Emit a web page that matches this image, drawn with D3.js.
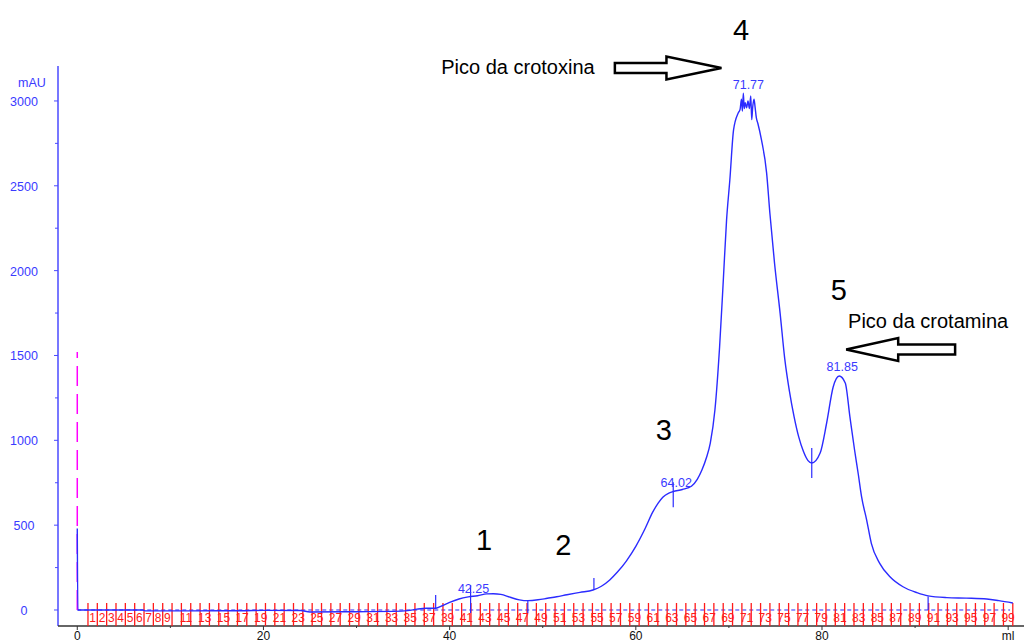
<!DOCTYPE html>
<html>
<head>
<meta charset="utf-8">
<script src="https://cdn.jsdelivr.net/npm/d3@7"></script>
<style>
body { margin: 0; background: #fff; }
svg { display: block; }
text { font-family: "Liberation Sans", Arial, sans-serif; }
</style>
</head>
<body>
<script>
// elution volume (ml) and absorbance (mAU)
var volumeMl = [0, 0.06, 5, 7, 7.3, 12, 18, 20, 24, 25, 30, 34, 35.5, 36.5, 37.5, 38.5, 39.2, 40, 41, 42,
	43, 44, 44.7, 45.5, 46.5, 47.5, 48.4, 49.5, 50.5, 51.5, 52.6, 54, 55.4, 56.3, 57.2, 58, 59, 60,
	61, 61.8, 62.4, 62.9, 63.5, 64, 65, 66, 66.6, 67.1, 67.6, 68, 68.5, 69, 69.4, 69.75, 70.1,
	70.5, 71, 71.2, 71.35, 71.45, 71.55, 71.65, 71.75, 71.9, 72.05, 72.2, 72.35, 72.45, 72.55, 72.7,
	72.8, 72.95, 73.1, 73.5, 74.05, 74.4, 74.9, 75.5, 76, 76.5, 77, 77.5, 78, 78.5, 78.9, 79.8, 80.5, 81.2,
	81.85, 82.5, 83, 83.5, 83.9, 84.25, 84.8, 85.3, 86.2, 87.3, 88.7, 90.2, 91.4, 93.4, 95.5, 97.7, 99, 100.5];
var mAU = [480, 0, 0, 0, -5, -5, -4, -2, -3, -12, -10, -8, -4, 5, 10, 10, 25, 45, 65, 77,
	84, 95, 96, 92, 75, 60, 55, 60, 69, 78, 90, 104, 118, 140, 177, 222, 290, 375,
	480, 575, 630, 665, 688, 698, 710, 731, 770, 825, 900, 984, 1180, 1550, 1945, 2299, 2534,
	2829, 2929, 2950, 3010, 2940, 3045, 2955, 2990, 2960, 3000, 2955, 3030, 2890, 2960, 3010,
	2970, 2900, 2870, 2770, 2576, 2340, 2045, 1750, 1480, 1290, 1140, 1020, 935, 880, 866, 925, 1102, 1314,
	1379, 1338, 1138, 943, 800, 668, 530, 393, 275, 196, 137, 102, 83, 73, 70, 65, 55, 41];

// integrated peaks
var peakVolumes = [42.25, 64.02, 71.77, 81.85];
var peakNames = ["42.25", "64.02", "71.77", "81.85"];
var peakHeights = [80, 705, 3050, 1390];

// small cut marks on the trace
var markVolumes = [38.5, 42.25, 48.4, 55.5, 64.02, 78.9, 91.4];
var markTop = [88, 147, 59, 189, 753, 954, 80];
var markBottom = [6, -18, -18, 118, 606, 778, 0];

// collected fractions
var fractionNumbers = d3.range(1, 100);
var fractionStart = 1.15;
var fractionSize = 1.0035;

var yMajorTicks = [0, 500, 1000, 1500, 2000, 2500, 3000];
var yMinorTicks = [250, 750, 1250, 1750, 2250, 2750];
var xTicks = [0, 10, 20, 30, 40, 50, 60, 70, 80, 90, 100];
var xTickLabels = ["0", "", "20", "", "40", "", "60", "", "80", "", "ml"];

// injection mark
var injectVolume = 0;
var injectHeight = 1520;

function init(){
	var w = 1024;
	var h = 642;
	var left = 58, top = 66, bottom = 626;
	var blue = "#2b2bff";

	var xScale = d3.scaleLinear()
		.domain([-2.07, 101.7])
		.range([left, w]);

	var yScale = d3.scaleLinear()
		.domain([-94.3, 3206])
		.range([bottom, top]);

	var svg = d3.select("body")
		.append("svg")
		.attr("width", w)
		.attr("height", h);

	// y axis
	svg.append("line")
		.attr("x1", left).attr("x2", left)
		.attr("y1", top).attr("y2", bottom)
		.attr("stroke", "#4a4aff").attr("stroke-width", 1.5);

	svg.selectAll(".ymaj")
		.data(yMajorTicks)
		.enter()
		.append("line")
		.attr("x1", left - 4).attr("x2", left)
		.attr("y1", function(d){ return yScale(d); })
		.attr("y2", function(d){ return yScale(d); })
		.attr("stroke", "#4a4aff");

	svg.selectAll(".ymin")
		.data(yMinorTicks)
		.enter()
		.append("line")
		.attr("x1", left - 3).attr("x2", left)
		.attr("y1", function(d){ return yScale(d); })
		.attr("y2", function(d){ return yScale(d); })
		.attr("stroke", "#4a4aff");

	svg.selectAll(".ylab")
		.data(yMajorTicks)
		.enter()
		.append("text")
		.text(function(d){ return d; })
		.attr("x", 24)
		.attr("y", function(d){ return yScale(d) + 5; })
		.attr("text-anchor", "middle")
		.attr("font-size", 12.5)
		.attr("fill", "#3a3aff");

	svg.append("text")
		.text("mAU")
		.attr("x", 32).attr("y", 87)
		.attr("text-anchor", "middle")
		.attr("font-size", 12.5)
		.attr("fill", "#3a3aff");

	// x axis
	svg.append("line")
		.attr("x1", left).attr("x2", w)
		.attr("y1", bottom).attr("y2", bottom)
		.attr("stroke", "#333").attr("stroke-width", 1.5);

	svg.selectAll(".xt")
		.data(xTicks)
		.enter()
		.append("line")
		.attr("x1", function(d){ return xScale(d); })
		.attr("x2", function(d){ return xScale(d); })
		.attr("y1", bottom)
		.attr("y2", function(d, i){ return xTickLabels[i] ? bottom + 4 : bottom + 2; })
		.attr("stroke", "#333");

	svg.selectAll(".xlab")
		.data(xTicks)
		.enter()
		.append("text")
		.text(function(d, i){ return xTickLabels[i]; })
		.attr("x", function(d){ return xScale(d); })
		.attr("y", 639.5)
		.attr("text-anchor", "middle")
		.attr("font-size", 12)
		.attr("fill", "#111");

	// baseline and injection mark
	svg.append("line")
		.attr("x1", xScale(0)).attr("x2", xScale(100.2))
		.attr("y1", yScale(0)).attr("y2", yScale(0))
		.attr("stroke", blue).attr("stroke-dasharray", "4,3");

	svg.append("line")
		.attr("x1", xScale(injectVolume)).attr("x2", xScale(injectVolume))
		.attr("y1", yScale(0)).attr("y2", yScale(injectHeight))
		.attr("stroke", "#ff00ff").attr("stroke-width", 1.5)
		.attr("stroke-dasharray", "20,8");

	// fractions
	var fracEdges = d3.range(0, fractionNumbers.length + 1);
	svg.selectAll(".frac")
		.data(fracEdges)
		.enter()
		.append("line")
		.attr("x1", function(d){ return xScale(fractionStart + d * fractionSize); })
		.attr("x2", function(d){ return xScale(fractionStart + d * fractionSize); })
		.attr("y1", bottom - 23).attr("y2", bottom)
		.attr("stroke", "#ff1a1a").attr("stroke-width", 1.3);

	svg.selectAll(".fraclab")
		.data(fractionNumbers.filter(function(n){ return n < 10 || n % 2 == 1; }))
		.enter()
		.append("text")
		.text(function(d){ return d; })
		.attr("x", function(d){ return xScale(fractionStart + (d - 0.5) * fractionSize); })
		.attr("y", bottom - 4.5)
		.attr("text-anchor", "middle")
		.attr("font-size", 12)
		.attr("fill", "#ff1a1a");

	// trace
	var pts = volumeMl.map(function(v, i){ return [v, mAU[i]]; });
	var line = d3.line()
		.x(function(d){ return xScale(d[0]); })
		.y(function(d){ return yScale(d[1]); })
		.curve(d3.curveMonotoneX);

	svg.append("path")
		.datum(pts)
		.attr("d", line)
		.attr("fill", "none")
		.attr("stroke", blue)
		.attr("stroke-width", 1.4);

	svg.selectAll(".mark")
		.data(markVolumes)
		.enter()
		.append("line")
		.attr("x1", function(d){ return xScale(d); })
		.attr("x2", function(d){ return xScale(d); })
		.attr("y1", function(d, i){ return yScale(markTop[i]); })
		.attr("y2", function(d, i){ return yScale(markBottom[i]); })
		.attr("stroke", blue).attr("stroke-width", 1.2);

	svg.selectAll(".peaklab")
		.data(peakVolumes)
		.enter()
		.append("text")
		.text(function(d, i){ return peakNames[i]; })
		.attr("x", function(d){ return xScale(d) + 3; })
		.attr("y", function(d, i){ return yScale(peakHeights[i]) - 3; })
		.attr("text-anchor", "middle")
		.attr("font-size", 12.5)
		.attr("fill", "#3a3aff");

	// annotations
	var nums = [["1", 43.7, 354], ["2", 52.2, 324], ["3", 63.0, 1002], ["4", 71.3, 3359], ["5", 81.8, 1827]];
	svg.selectAll(".num")
		.data(nums)
		.enter()
		.append("text")
		.text(function(d){ return d[0]; })
		.attr("x", function(d){ return xScale(d[1]); })
		.attr("y", function(d){ return yScale(d[2]); })
		.attr("text-anchor", "middle")
		.attr("font-size", 29)
		.attr("fill", "#000");

	svg.append("text")
		.text("Pico da crotoxina")
		.attr("x", xScale(39.1)).attr("y", yScale(3159))
		.attr("font-size", 20).attr("fill", "#000");

	svg.append("text")
		.text("Pico da crotamina")
		.attr("x", xScale(82.8)).attr("y", yScale(1662))
		.attr("font-size", 20).attr("fill", "#000");

	function arrow(tail, tip, v, headLen){
		var x0 = xScale(tail), x1 = xScale(tip), cy = yScale(v);
		var dir = x1 > x0 ? 1 : -1;
		var xb = x1 - dir * headLen;
		var p = [[x0, cy - 5], [xb, cy - 5], [xb, cy - 11.5], [x1, cy],
			[xb, cy + 11.5], [xb, cy + 5], [x0, cy + 5]];
		svg.append("polygon")
			.attr("points", p.map(function(q){ return q.join(","); }).join(" "))
			.attr("fill", "#fff")
			.attr("stroke", "#000")
			.attr("stroke-width", 2.5)
			.attr("stroke-linejoin", "miter");
	}
	arrow(57.75, 69.2, 3194, 55);
	arrow(94.3, 82.6, 1535, 52);
}
window.onload = init;
</script>
</body>
</html>
